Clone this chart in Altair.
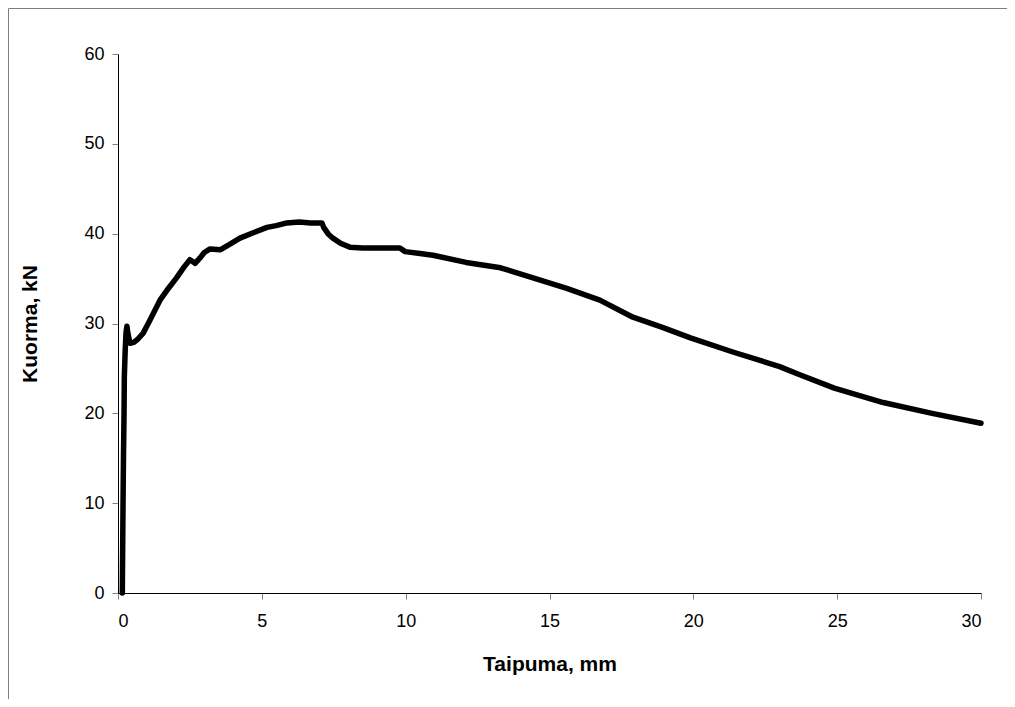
import altair as alt
import pandas as pd

deflection = [0.15, 0.17, 0.19, 0.21, 0.22, 0.25, 0.28, 0.31, 0.35, 0.42, 0.55, 0.7, 0.87, 1.1,
              1.46, 1.75, 2.04, 2.3, 2.5, 2.6, 2.68, 2.85, 3.0, 3.2, 3.55, 3.82, 4.24, 4.7,
              5.18, 5.5, 5.87, 6.3, 6.7, 7.09, 7.15, 7.3, 7.47, 7.75, 8.06, 8.5, 9.0, 9.5, 9.8,
              9.98, 10.5, 10.95, 12.1, 13.3, 14.4, 15.6, 16.75, 17.9, 18.9, 19.9, 21.4,
              23.0, 23.7, 24.9, 26.6, 28.3, 30.0]
load = [0, 8, 15, 20, 24, 27, 29, 29.7, 28.8, 27.8, 27.9, 28.3, 28.9, 30.3,
        32.6, 33.9, 35.1, 36.3, 37.1, 36.9, 36.7, 37.3, 37.9, 38.3, 38.2, 38.7, 39.5, 40.1,
        40.7, 40.9, 41.2, 41.3, 41.2, 41.2, 40.7, 40.0, 39.5, 38.9, 38.5, 38.4, 38.4, 38.4, 38.4,
        38.0, 37.8, 37.6, 36.8, 36.2, 35.1, 33.9, 32.6, 30.7, 29.6, 28.4, 26.8,
        25.2, 24.3, 22.8, 21.2, 20.0, 18.9]

x_ticks = [0, 5, 10, 15, 20, 25, 30]
y_ticks = [0, 10, 20, 30, 40, 50, 60]

df = pd.DataFrame({"x": deflection, "y": load, "i": list(range(len(load)))})

FONT = "Liberation Sans"

line = alt.Chart(df).mark_line(color="black", strokeWidth=5.5, strokeJoin="round", strokeCap="round").encode(
    x=alt.X("x:Q", scale=alt.Scale(domain=[0, 30], nice=False),
            axis=alt.Axis(values=x_ticks, title="Taipuma, mm", grid=False,
                          domainColor="black", tickColor="#808080", tickSize=6,
                          labelFont=FONT, labelFontSize=18, labelColor="black", labelPadding=13,
                          titleFont=FONT, titleFontSize=21, titleFontWeight="bold", titleColor="black",
                          titlePadding=23)),
    y=alt.Y("y:Q", scale=alt.Scale(domain=[0, 60], nice=False),
            axis=alt.Axis(values=y_ticks, title="Kuorma, kN", grid=False,
                          domainColor="black", tickColor="#808080", tickSize=6,
                          labelFont=FONT, labelFontSize=18, labelColor="black", labelPadding=8,
                          titleFont=FONT, titleFontSize=21, titleFontWeight="bold", titleColor="black",
                          titlePadding=43)),
    order="i:Q",
)

frame_df = pd.DataFrame({"a": [0]})
top_border = alt.Chart(frame_df).mark_rule(color="#7f7f7f", strokeWidth=1).encode(
    x=alt.value(-109.5), x2=alt.value(900), y=alt.value(-45.5))
left_border = alt.Chart(frame_df).mark_rule(color="#7f7f7f", strokeWidth=1).encode(
    x=alt.value(-109.5), y=alt.value(-45.5), y2=alt.value(700))

chart = alt.layer(line, top_border, left_border).properties(
    width=863, height=539,
    padding={"left": 110, "top": 46, "right": 26, "bottom": 106},
    autosize=alt.AutoSizeParams(type="none"),
    background="white",
).configure_view(stroke=None)

chart.save("out.html", embed_options={"renderer": "svg", "actions": False})
